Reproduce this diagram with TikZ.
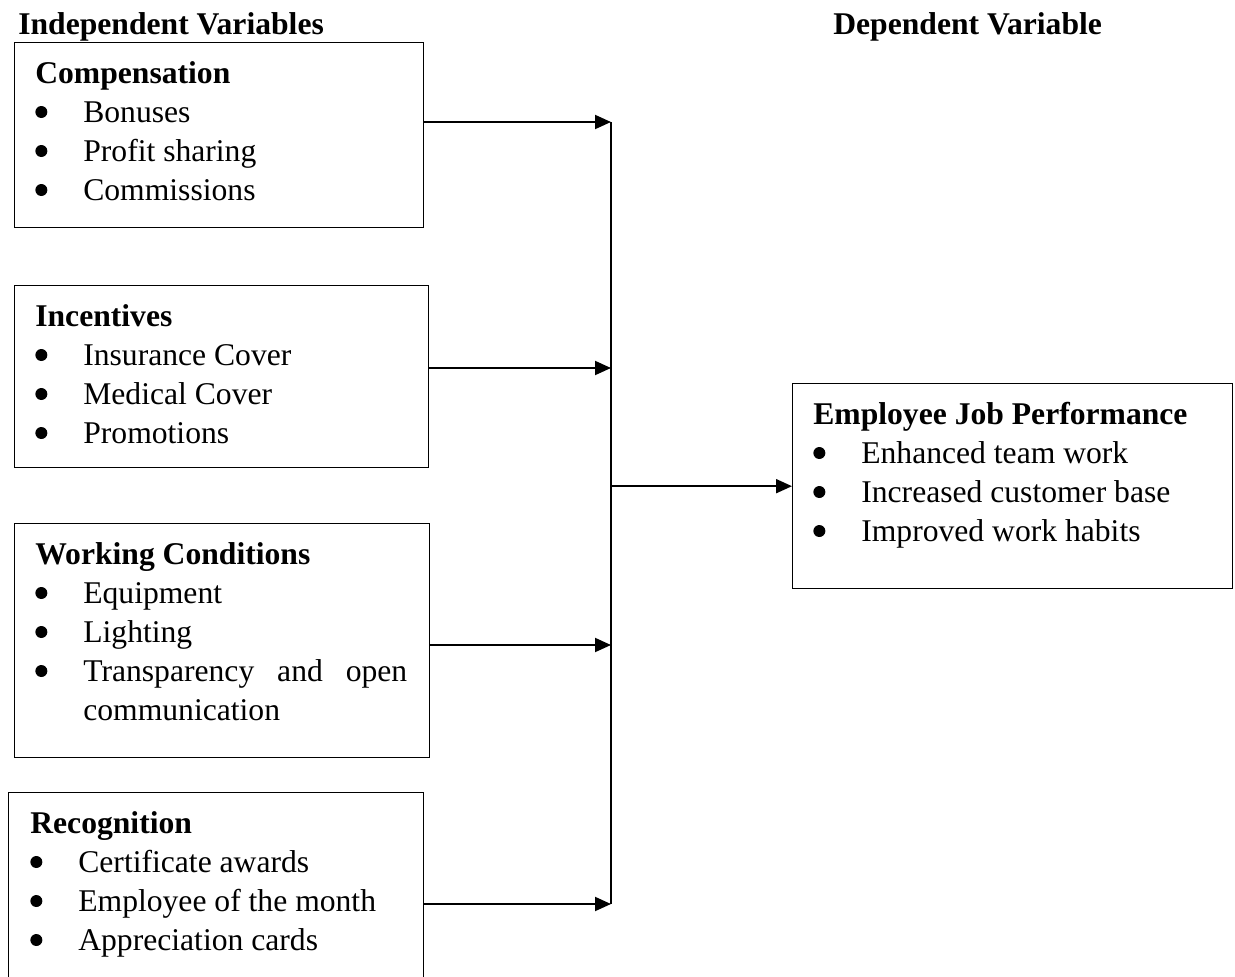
\documentclass[tikz,border=0pt]{standalone}
\usepackage{fontspec}
\setmainfont{Liberation Serif}
\usepackage{tikz}
\usetikzlibrary{arrows.meta,positioning}

% bulleted line inside a box
\newcommand{\bigbullet}{\tikz[baseline=0pt]\fill (0.12cm,0.2cm) circle (0.12cm);}
\newcommand{\bitem}[1]{\makebox[0.96cm][l]{\bigbullet}#1\par}

\begin{document}
\begin{tikzpicture}[
    x=0.02cm, y=-0.02cm,
    varbox/.style={rectangle, draw=black, line width=0.8pt, anchor=north west, inner sep=0pt},
    listtext/.style={anchor=base west, inner sep=0pt, font=\fontsize{18pt}{22.2pt}\selectfont},
    heading/.style={anchor=base west, inner sep=0pt, font=\fontsize{18pt}{22.2pt}\selectfont\bfseries},
    arrow/.style={-{Triangle[length=0.32cm,width=0.28cm]}, line width=1.1pt},
    joinline/.style={line width=1.1pt}
]
\clip (0,0) rectangle (1235,977);

% Headings
\node[heading] (indep) at (18,34) {Independent Variables};
\node[heading] (dep) at (833,34) {Dependent Variable};

% Independent variable boxes
\node[varbox, minimum width=8.18cm, minimum height=3.70cm] (comp) at (14,42) {};
\node[varbox, minimum width=8.28cm, minimum height=3.64cm] (incent) at (14,285) {};
\node[varbox, minimum width=8.30cm, minimum height=4.68cm] (work) at (14,523) {};
\node[varbox, minimum width=8.30cm, minimum height=3.80cm] (recog) at (8,792) {};

% Dependent variable box
\node[varbox, minimum width=8.80cm, minimum height=4.10cm] (perf) at (792,383) {};

% Box contents
\node[listtext] (comptext) at (35,83) {\parbox[t]{7.6cm}{%
    \textbf{Compensation}\par
    \bitem{Bonuses}
    \bitem{Profit sharing}
    \bitem{Commissions}}};
\node[listtext] (incenttext) at (35,326) {\parbox[t]{7.6cm}{%
    \textbf{Incentives}\par
    \bitem{Insurance Cover}
    \bitem{Medical Cover}
    \bitem{Promotions}}};
\node[listtext] (worktext) at (35,564) {\parbox[t]{7.6cm}{%
    \textbf{Working Conditions}\par
    \bitem{Equipment}
    \bitem{Lighting}
    \makebox[0.96cm][l]{\bigbullet}\makebox[6.48cm][s]{Transparency and open}\par
    \hspace*{0.96cm}communication\par}};
\node[listtext] (recogtext) at (30,833) {\parbox[t]{7.6cm}{%
    \textbf{Recognition}\par
    \bitem{Certificate awards}
    \bitem{Employee of the month}
    \bitem{Appreciation cards}}};
\node[listtext] (perftext) at (813,424) {\parbox[t]{8.3cm}{%
    \textbf{Employee Job Performance}\par
    \bitem{Enhanced team work}
    \bitem{Increased customer base}
    \bitem{Improved work habits}}};

% Junction points on the collecting line
\coordinate (j1) at (611,122);
\coordinate (j2) at (611,368);
\coordinate (j3) at (611,645);
\coordinate (j4) at (611,904);

% Connections
\draw[arrow] (comp.east |- j1) -- (j1);
\draw[arrow] (incent.east |- j2) -- (j2);
\draw[arrow] (work.east |- j3) -- (j3);
\draw[arrow] (recog.east |- j4) -- (j4);
\draw[joinline] (j1) -- (j4);
\draw[arrow] (perf.west -| j1) -- (perf.west);

\end{tikzpicture}
\end{document}
